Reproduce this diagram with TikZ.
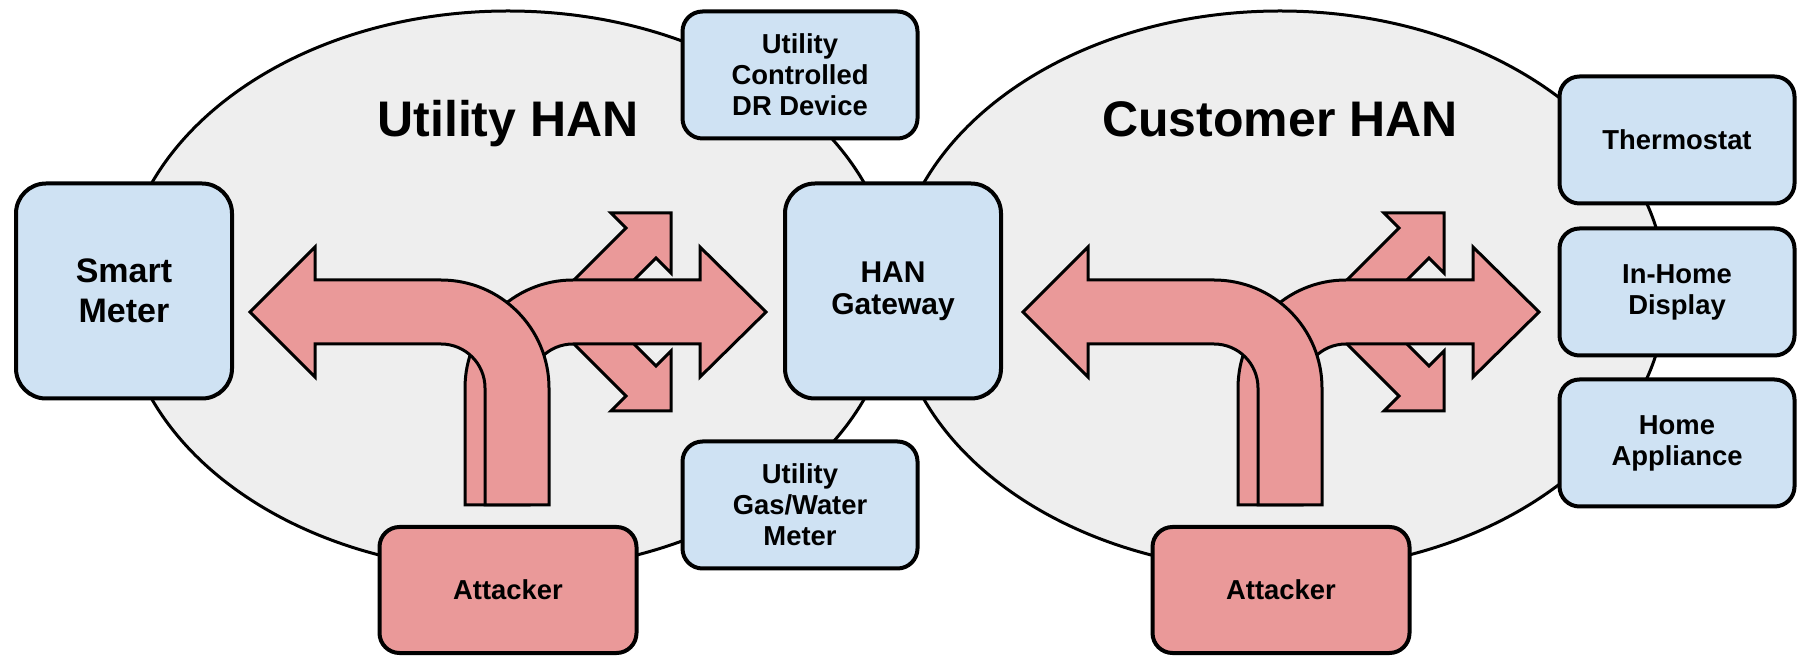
\documentclass[tikz,border=0pt]{standalone}
\usepackage{fontspec}
\setmainfont{Liberation Sans}
\definecolor{hangray}{HTML}{EEEEEE}
\definecolor{devblue}{HTML}{CFE2F3}
\definecolor{attred}{HTML}{EA9999}
\tikzset{
  hanzone/.style={draw=black, line width=1.5pt, fill=hangray},
  hantitle/.style={anchor=base, inner sep=0pt, font=\bfseries\fontsize{25}{28}\selectfont},
  hubbox/.style={draw=black, line width=2pt, fill=devblue, rounded corners=15pt, align=center, inner sep=0pt, minimum width=108pt, minimum height=107.5pt},
  devbox/.style={draw=black, line width=2pt, fill=devblue, rounded corners=10pt, align=center, inner sep=0pt, minimum width=117.5pt, minimum height=63.5pt, font=\bfseries\fontsize{13.7}{15.5}\selectfont},
  attbox/.style={draw=black, line width=2pt, fill=attred, rounded corners=10pt, inner sep=0pt, minimum width=128.5pt, minimum height=63pt, font=\bfseries\fontsize{13.7}{15.5}\selectfont},
  attarrow/.style={draw=black, line width=1.5pt, fill=attred}
}
% the four attack arrows of one HAN, shifted by #1 px
\def\forkarrows(#1){%
  \begin{scope}[shift={(#1,0)}]
    \draw[attarrow] (559,295) -- (626,228) -- (611,213) -- (671,213) -- (671,273) -- (656,258) -- (589,325) -- cycle;
    \draw[attarrow] (559,329) -- (626,396) -- (611,411) -- (671,411) -- (671,351) -- (656,366) -- (589,299) -- cycle;
    \draw[attarrow] (465,505) -- (465,388) arc (180:270:108) -- (700,280) -- (700,247) -- (766,312) -- (700,377) -- (700,344) -- (573,344) arc (270:180:44) -- (529,505) -- cycle;
    \draw[attarrow] (485,505) -- (485,388) arc (0:-90:44) -- (315,344) -- (315,377) -- (250,312) -- (315,247) -- (315,280) -- (441,280) arc (-90:0:108) -- (549,505) -- cycle;
  \end{scope}}

\begin{document}
\begin{tikzpicture}[x=0.5pt,y=-0.5pt]
		%%%%% START %%%%%
		\useasboundingbox (0,0) rectangle (1797,656);
		
		\draw[hanzone] (508,291) ellipse (386 and 280);
		\draw[hanzone] (1280,291) ellipse (386 and 280);
		
		\node[hantitle] (utilityhan) at (508,137) {Utility HAN};
		\node[hantitle] (customerhan) at (1280,137) {Customer HAN};
		
		\forkarrows(0)
		\forkarrows(773)
		
		\node[hubbox, font=\bfseries\fontsize{17}{20}\selectfont] (smartmeter) at (124,291) {Smart\\Meter};
		\node[hubbox, font=\bfseries\fontsize{15}{16}\selectfont] (gateway) at (893,291) {HAN\\Gateway};
		
		\node[devbox] (drdevice) at (800,75) {Utility\\Controlled\\DR Device};
		\node[devbox] (gasmeter) at (800,505) {Utility\\Gas/Water\\Meter};
		
		\node[devbox] (thermostat) at (1677,140) {Thermostat};
		\node[devbox] (display) at (1677,292) {In-Home\\Display};
		\node[devbox] (appliance) at (1677,443) {Home\\Appliance};
		
		\node[attbox] (attackerutil) at (508,590) {Attacker};
		\node[attbox] (attackercust) at (1281,590) {Attacker};
		
		%%%%% END %%%%%
	\end{tikzpicture}
\end{document}
